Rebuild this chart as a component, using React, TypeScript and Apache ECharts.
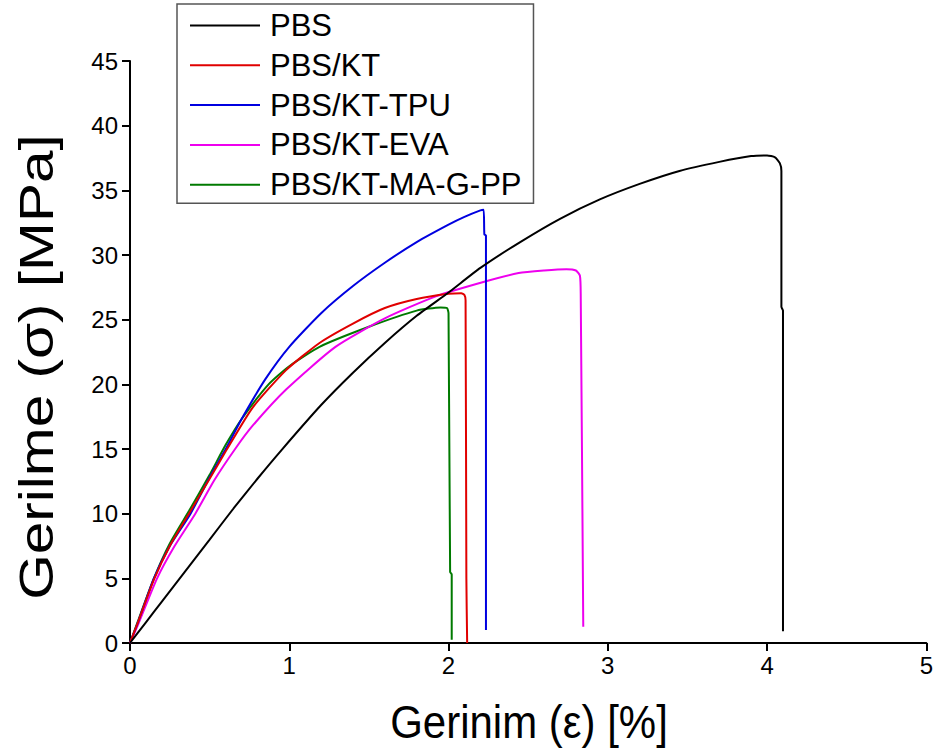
import React, { useEffect, useRef } from "react";
import * as echarts from "echarts";

const seriesNames = ["PBS", "PBS/KT", "PBS/KT-TPU", "PBS/KT-EVA", "PBS/KT-MA-G-PP"];
const seriesColors = ["#000000", "#e00000", "#0000e0", "#ee00ee", "#007a00"];

// strain (%) , stress (MPa)
const pbs: number[][] = [
  [0, 0], [0.1, 1.6], [0.2, 3.2], [0.35, 5.6], [0.5, 8.0], [0.65, 10.4], [0.8, 12.7],
  [0.95, 14.9], [1.2, 18.4], [1.4, 20.9], [1.6, 23.2], [1.8, 25.3], [2.0, 27.1],
  [2.2, 29.0], [2.45, 31.0], [2.7, 32.8], [2.95, 34.3], [3.2, 35.5], [3.45, 36.5],
  [3.7, 37.2], [3.9, 37.65], [4.0, 37.7], [4.05, 37.55], [4.08, 37.1], [4.09, 36.5],
  [4.09, 26.0], [4.1, 25.7], [4.1, 0.9],
];
const pbsKt: number[][] = [
  [0, 0], [0.05, 1.6], [0.15, 4.9], [0.25, 7.5], [0.37, 10.0], [0.5, 12.7], [0.6, 14.8],
  [0.77, 18.2], [0.98, 21.1], [1.19, 23.2], [1.4, 24.7], [1.6, 25.9], [1.8, 26.6],
  [2.0, 27.0], [2.08, 27.05], [2.1, 26.9], [2.107, 26.5], [2.112, 5.0], [2.117, 0],
];
const pbsKtTpu: number[][] = [
  [0, 0], [0.05, 1.6], [0.15, 5.0], [0.25, 7.5], [0.38, 10.0], [0.5, 12.8], [0.61, 15.2],
  [0.7, 17.3], [0.85, 20.4], [1.0, 22.9], [1.2, 25.5], [1.4, 27.6], [1.6, 29.4],
  [1.8, 31.0], [2.0, 32.35], [2.1, 32.95], [2.2, 33.45], [2.22, 33.5], [2.225, 31.6],
  [2.235, 31.5], [2.235, 1.0],
];
const pbsKtEva: number[][] = [
  [0, 0], [0.05, 1.4], [0.17, 5.0], [0.28, 7.5], [0.41, 10.0], [0.53, 12.6], [0.66, 15.0],
  [0.77, 16.8], [0.98, 19.6], [1.29, 22.9], [1.6, 25.1], [1.92, 26.8], [2.23, 27.95],
  [2.44, 28.6], [2.6, 28.8], [2.74, 28.9], [2.8, 28.8], [2.825, 28.4], [2.83, 27.0],
  [2.846, 1.25],
];
const pbsKtMaGPp: number[][] = [
  [0, 0], [0.05, 1.7], [0.15, 5.0], [0.25, 7.7], [0.37, 10.2], [0.5, 13.0], [0.6, 15.3],
  [0.7, 17.3], [0.87, 20.0], [1.0, 21.4], [1.19, 22.9], [1.5, 24.45], [1.8, 25.7],
  [1.95, 25.95], [1.99, 25.9], [2.0, 25.5], [2.01, 5.5], [2.02, 5.3], [2.02, 0.26],
];
const seriesData = [pbs, pbsKt, pbsKtTpu, pbsKtEva, pbsKtMaGPp];

const xTitle = "Gerinim (ε) [%]";
const yTitle = "Gerilme (σ) [MPa]";
const FONT = '"Liberation Sans", Arial, sans-serif';

export default function App() {
  const ref = useRef<HTMLDivElement>(null);
  useEffect(() => {
    document.body.style.margin = "0";
    if (!ref.current) return;
    const chart = echarts.init(ref.current, undefined, { renderer: "svg" });
    const axisCommon = {
      type: "value" as const,
      splitLine: { show: false },
      axisLine: { show: true, onZero: false, lineStyle: { color: "#000", width: 2 } },
      axisTick: { show: true, inside: false, length: 8, lineStyle: { color: "#000", width: 2 } },
      axisLabel: { color: "#000", fontSize: 24, fontFamily: FONT },
    };
    chart.setOption({
      animation: false,
      backgroundColor: "#fff",
      grid: { left: 130, right: 9, top: 61, bottom: 113, containLabel: false },
      xAxis: { ...axisCommon, min: 0, max: 5, interval: 1, axisLabel: { ...axisCommon.axisLabel, margin: 10 } },
      yAxis: { ...axisCommon, min: 0, max: 45, interval: 5, axisLabel: { ...axisCommon.axisLabel, margin: 12 } },
      legend: {
        orient: "vertical",
        left: 177,
        top: 4,
        icon: "rect",
        itemWidth: 70,
        itemHeight: 2,
        itemGap: 8.8,
        padding: [6, 12, 3, 13],
        borderColor: "#555",
        borderWidth: 1.5,
        backgroundColor: "#fff",
        textStyle: { fontSize: 31, lineHeight: 30, fontFamily: FONT, color: "#000", padding: [0, 0, 0, 5] },
        data: seriesNames,
      },
      graphic: [
        {
          type: "text",
          x: 529,
          y: 722,
          scaleY: 1.12,
          style: { text: xTitle, fontSize: 42, fontFamily: FONT, fill: "#000", align: "center", verticalAlign: "middle" },
        },
        {
          type: "text",
          x: 36,
          y: 367,
          rotation: Math.PI / 2,
          scaleX: 1.22,
          style: { text: yTitle, fontSize: 48, fontFamily: FONT, fill: "#000", align: "center", verticalAlign: "middle" },
        },
      ],
      series: seriesNames.map((name, i) => ({
        name,
        type: "line",
        data: seriesData[i],
        symbol: "none",
        smooth: 0.2,
        lineStyle: { color: seriesColors[i], width: 2 },
        itemStyle: { color: seriesColors[i] },
        z: 10 - i,
      })),
    });
    return () => chart.dispose();
  }, []);
  return <div ref={ref} style={{ width: 936, height: 756 }} />;
}
